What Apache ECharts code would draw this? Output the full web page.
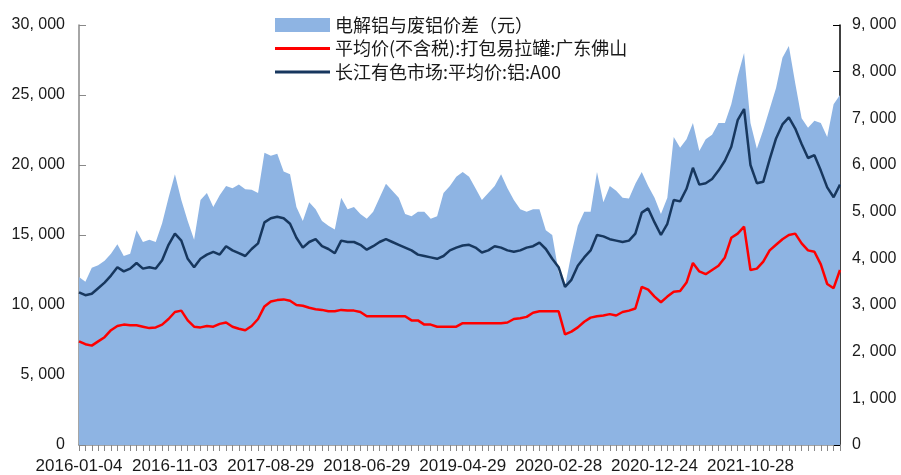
<!DOCTYPE html>
<html>
<head>
<meta charset="utf-8">
<script src="https://cdn.jsdelivr.net/npm/echarts@6/dist/echarts.min.js"></script>
<style>
  html, body { margin: 0; padding: 0; background: #fff; }
  #chart { width: 901px; height: 475px; }
</style>
</head>
<body>
<div id="chart"></div>
<script>
    // x轴显示的日期标签（每15个点一个）
    const tickLabels = ['2016-01-04', '2016-11-03', '2017-08-29', '2018-06-29',
        '2019-04-29', '2020-02-28', '2020-12-24', '2021-10-28'];
    const labelStep = 15;

    // 电解铝与废铝价差（元），右轴
    const spread = [
        3600, 3500, 3800, 3850, 3950, 4100, 4300, 4050, 4100, 4600,
        4350, 4400, 4350, 4750, 5300, 5800, 5250, 4800, 4400, 5250,
        5400, 5100, 5350, 5550, 5500, 5580, 5480, 5470, 5400, 6260,
        6200, 6240, 5860, 5800, 5100, 4800, 5200, 5050, 4800, 4700,
        4620, 5300, 5050, 5100, 4950, 4850, 5000, 5300, 5600, 5450,
        5300, 4950, 4900, 5000, 5000, 4850, 4900, 5400, 5550, 5750,
        5850, 5750, 5500, 5250, 5400, 5550, 5800, 5500, 5250, 5050,
        5000, 5050, 5050, 4600, 4500, 3700, 3400, 4100, 4700, 5000,
        5000, 5850, 5200, 5550, 5450, 5300, 5280, 5600, 5850, 5550,
        5300, 4950, 5300, 6600, 6370, 6550, 6900, 6300, 6550, 6650,
        6900, 6900, 7300, 7900, 8400, 6900, 6350, 6750, 7200, 7650,
        8300, 8550, 7750, 7000, 6800, 6950, 6900, 6600, 7300, 7500
    ];

    // 平均价(不含税):打包易拉罐:广东佛山，左轴
    const scrapCan = [
        7400, 7200, 7100, 7400, 7700, 8200, 8500, 8600, 8550, 8550,
        8450, 8350, 8400, 8600, 9000, 9500, 9600, 8900, 8450, 8400,
        8500, 8450, 8650, 8750, 8450, 8300, 8200, 8500, 9000, 9900,
        10250, 10350, 10400, 10300, 10000, 9950, 9800, 9700, 9650, 9550,
        9550, 9650, 9600, 9600, 9500, 9200, 9200, 9200, 9200, 9200,
        9200, 9200, 8900, 8900, 8600, 8600, 8450, 8450, 8450, 8450,
        8700, 8700, 8700, 8700, 8700, 8700, 8700, 8750, 9000, 9050,
        9150, 9450, 9550, 9550, 9550, 9550, 7900, 8100, 8400, 8800,
        9100, 9200, 9250, 9350, 9250, 9500, 9600, 9750, 11300, 11100,
        10600, 10200, 10600, 10950, 11000, 11600, 13000, 12400, 12200, 12500,
        12800, 13400, 14800, 15100, 15600, 12500, 12600, 13100, 13900, 14300,
        14700, 15000, 15100, 14400, 13900, 13800, 12900, 11500, 11200, 12500
    ];

    // 长江有色市场:平均价:铝:A00，左轴
    const a00 = [
        10900, 10700, 10800, 11200, 11600, 12100, 12700, 12400, 12600, 13000,
        12600, 12700, 12600, 13200, 14300, 15100, 14600, 13300, 12700, 13300,
        13600, 13800, 13600, 14200, 13900, 13700, 13500, 14000, 14400, 15900,
        16200, 16300, 16200, 15800, 14800, 14100, 14500, 14700, 14200, 14000,
        13700, 14600, 14500, 14500, 14300, 13950, 14200, 14500, 14700, 14500,
        14300, 14100, 13900, 13600, 13500, 13400, 13300, 13500, 13900, 14100,
        14250, 14300, 14100, 13750, 13900, 14200, 14100, 13900, 13800, 13900,
        14100, 14200, 14450, 14000, 13300, 12700, 11300, 11800, 12800, 13400,
        13900, 15000, 14900, 14700, 14600, 14500, 14600, 15100, 16600, 16900,
        15900, 15000, 15800, 17500, 17400, 18300, 19800, 18600, 18700, 19000,
        19600, 20300, 21300, 23200, 24000, 20000, 18700, 18800, 20400, 21900,
        22900, 23400, 22600, 21500, 20500, 20700, 19600, 18400, 17700, 18600
    ];

    const categories = spread.map((v, i) => i);

    // 千分位，原图逗号后带空格
    const numFmt = v => String(v).replace(/\B(?=(\d{3})+(?!\d))/g, ', ');
    const labelFont = { fontSize: 16, color: '#1a1a1a', fontFamily: 'Liberation Sans, Noto Sans CJK SC, sans-serif' };
    const lineIcon = 'path://M0,0 L55,0 L55,3 L0,3 Z';

    let myChart = echarts.init(document.getElementById('chart'));
    let option = {
        animation: false,
        backgroundColor: '#fff',
        legend: {
            orient: 'vertical',
            left: 270,
            top: 11,
            itemWidth: 55,
            itemHeight: 14,
            itemGap: 5.5,
            textStyle: { fontSize: 18, lineHeight: 18, color: '#1a1a1a', fontFamily: 'Noto Sans CJK SC, sans-serif' },
            data: [
                { name: '电解铝与废铝价差（元）', icon: 'rect' },
                { name: '平均价(不含税):打包易拉罐:广东佛山', icon: lineIcon },
                { name: '长江有色市场:平均价:铝:A00', icon: lineIcon }
            ]
        },
        grid: { left: 79, right: 61, top: 25, bottom: 29 },
        xAxis: {
            type: 'category',
            boundaryGap: false,
            data: categories,
            axisLine: { lineStyle: { color: '#888', width: 1.5 } },
            axisTick: { interval: 0, length: 6, lineStyle: { color: '#888' } },
            axisLabel: Object.assign({}, labelFont, {
                fontSize: 17,
                interval: labelStep - 1,
                margin: 13,
                hideOverlap: false,
                formatter: (v, idx) => tickLabels[idx / labelStep] || ''
            }),
            splitLine: { show: false }
        },
        yAxis: [
            {
                type: 'value',
                min: 0, max: 30000, interval: 5000,
                axisLine: { show: true, lineStyle: { color: '#888', width: 1.5 } },
                axisTick: { show: true, inside: true, length: 7, lineStyle: { color: '#888' } },
                axisLabel: Object.assign({ margin: 14, formatter: numFmt }, labelFont),
                splitLine: { show: false }
            },
            {
                type: 'value',
                min: 0, max: 9000, interval: 1000,
                axisLine: { show: true, lineStyle: { color: '#000', width: 1.5 } },
                axisTick: { show: true, inside: true, length: 7, lineStyle: { color: '#000' } },
                axisLabel: Object.assign({ margin: 12, formatter: numFmt }, labelFont),
                splitLine: { show: false }
            }
        ],
        series: [
            {
                name: '电解铝与废铝价差（元）',
                type: 'line',
                yAxisIndex: 1,
                data: spread,
                symbol: 'none',
                color: '#8EB4E3',
                lineStyle: { width: 0 },
                areaStyle: { color: '#8EB4E3', opacity: 1 },
                z: 1
            },
            {
                name: '平均价(不含税):打包易拉罐:广东佛山',
                type: 'line',
                yAxisIndex: 0,
                data: scrapCan,
                symbol: 'none',
                color: '#FF0000',
                lineStyle: { width: 2.5, color: '#FF0000' },
                z: 3
            },
            {
                name: '长江有色市场:平均价:铝:A00',
                type: 'line',
                yAxisIndex: 0,
                data: a00,
                symbol: 'none',
                color: '#17375E',
                lineStyle: { width: 2.5, color: '#17375E' },
                z: 3
            }
        ]
    };
    myChart.setOption(option);
</script>
</body>
</html>
